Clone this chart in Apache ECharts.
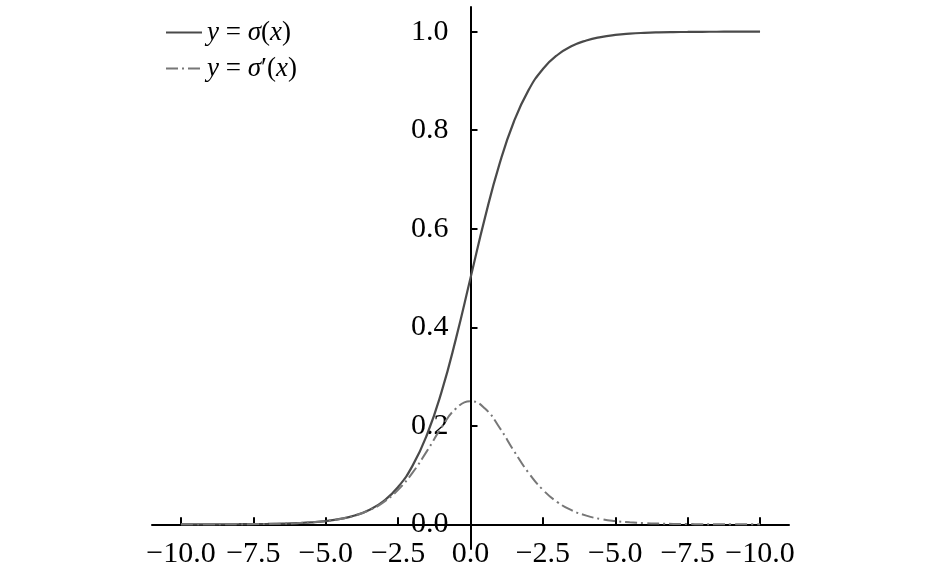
<!DOCTYPE html>
<html>
<head>
<meta charset="utf-8">
<script src="https://cdn.jsdelivr.net/npm/echarts@6/dist/echarts.min.js"></script>
<style>html,body{margin:0;padding:0;background:#fff}#c{width:945px;height:584px}</style>
</head>
<body>
<div id="c"></div>
<script>
var xs = [-10,-9.5,-9,-8.5,-8,-7.5,-7,-6.5,-6,-5.5,-5,-4.5,-4,-3.5,-3,-2.5,-2,-1.5,-1,-0.5,0,0.5,1,1.5,2,2.5,3,3.5,4,4.5,5,5.5,6,6.5,7,7.5,8,8.5,9,9.5,10];
var sigmoidVals = [0.0000,0.0001,0.0001,0.0002,0.0003,0.0006,0.0009,0.0015,0.0025,0.0041,0.0067,0.0110,0.0180,0.0293,0.0474,0.0759,0.1192,0.1824,0.2689,0.3775,0.5000,0.6225,0.7311,0.8176,0.8808,0.9241,0.9526,0.9707,0.9820,0.9890,0.9933,0.9959,0.9975,0.9985,0.9991,0.9994,0.9997,0.9998,0.9999,0.9999,1.0000];
var derivVals = [0.0000,0.0001,0.0001,0.0002,0.0003,0.0006,0.0009,0.0015,0.0025,0.0041,0.0066,0.0108,0.0177,0.0285,0.0452,0.0701,0.1050,0.1491,0.1966,0.2350,0.2500,0.2350,0.1966,0.1491,0.1050,0.0701,0.0452,0.0285,0.0177,0.0108,0.0066,0.0041,0.0025,0.0015,0.0009,0.0006,0.0003,0.0002,0.0001,0.0001,0.0000];
var xTickValues = [-10,-7.5,-5,-2.5,0,2.5,5,7.5,10];
var xTickLabels = ['\u221210.0','\u22127.5','\u22125.0','\u22122.5','0.0','\u22122.5','\u22125.0','\u22127.5','\u221210.0'];
var yTickValues = [0,0.2,0.4,0.6,0.8,1.0];
var yTickLabels = ['0.0','0.2','0.4','0.6','0.8','1.0'];
var seriesNames = ['sigma','dsigma'];

var FONT = '"Liberation Serif", "Times New Roman", serif';
var GRID = { left: 152, right: 156, top: 7, bottom: 35 };
var W = 945, H = 584;
var X_MIN = -11, X_MAX = 11, Y_MIN = -0.05, Y_MAX = 1.05;
// offsets so that the axes cross at (0, 0)
var gridW = W - GRID.left - GRID.right, gridH = H - GRID.top - GRID.bottom;
var yAxisOffset = -gridW * (0 - X_MIN) / (X_MAX - X_MIN);
var xAxisOffset = -gridH * (0 - Y_MIN) / (Y_MAX - Y_MIN);

var chart = echarts.init(document.getElementById('c'));
function pairs(vals){ return xs.map(function(x,i){ return [x, vals[i]]; }); }
chart.setOption({
  animation: false,
  backgroundColor: '#fff',
  grid: GRID,
  legend: {
    left: 160, top: 14, orient: 'vertical', itemWidth: 36, itemHeight: 14, itemGap: 9,
    data: seriesNames,
    itemStyle: { opacity: 0 },
    formatter: function(n){
      return n === 'sigma' ? '{i|y} = {i|\u03c3}({i|x})' : '{i|y} = {i|\u03c3}\u2032({i|x})';
    },
    textStyle: {
      fontFamily: FONT, fontSize: 27, color: '#000',
      rich: { i: { fontFamily: FONT, fontSize: 27, fontStyle: 'italic', color: '#000' } }
    }
  },
  xAxis: {
    type: 'value', min: X_MIN, max: X_MAX, offset: xAxisOffset,
    axisLine: { onZero: false, lineStyle: { color: '#000', width: 2 } },
    axisTick: { show: true, inside: true, length: 7, customValues: xTickValues, lineStyle: { color: '#000', width: 2 } },
    axisLabel: {
      customValues: xTickValues, margin: 15, fontFamily: FONT, fontSize: 30, color: '#000',
      formatter: function(v){ var i = xTickValues.indexOf(v); return i >= 0 ? xTickLabels[i] : ''; }
    },
    splitLine: { show: false }
  },
  yAxis: {
    type: 'value', min: Y_MIN, max: Y_MAX, offset: yAxisOffset,
    axisLine: { onZero: false, lineStyle: { color: '#000', width: 2 } },
    axisTick: { show: true, inside: true, length: 7, customValues: yTickValues, lineStyle: { color: '#000', width: 2 } },
    axisLabel: {
      customValues: yTickValues, margin: 22, fontFamily: FONT, fontSize: 30, color: '#000',
      formatter: function(v){ var i = yTickValues.findIndex(function(t){ return Math.abs(t - v) < 1e-9; }); return i >= 0 ? yTickLabels[i] : ''; }
    },
    splitLine: { show: false }
  },
  series: [
    { name: 'sigma', type: 'line', data: pairs(sigmoidVals), smooth: true, symbol: 'none',
      lineStyle: { color: '#4a4a4a', width: 2.2 }, itemStyle: { color: '#4a4a4a' } },
    { name: 'dsigma', type: 'line', data: pairs(derivVals), smooth: true, symbol: 'none',
      lineStyle: { color: '#777', width: 2, type: [12, 4, 2, 4] }, itemStyle: { color: '#777' } }
  ]
});
</script>
</body>
</html>
